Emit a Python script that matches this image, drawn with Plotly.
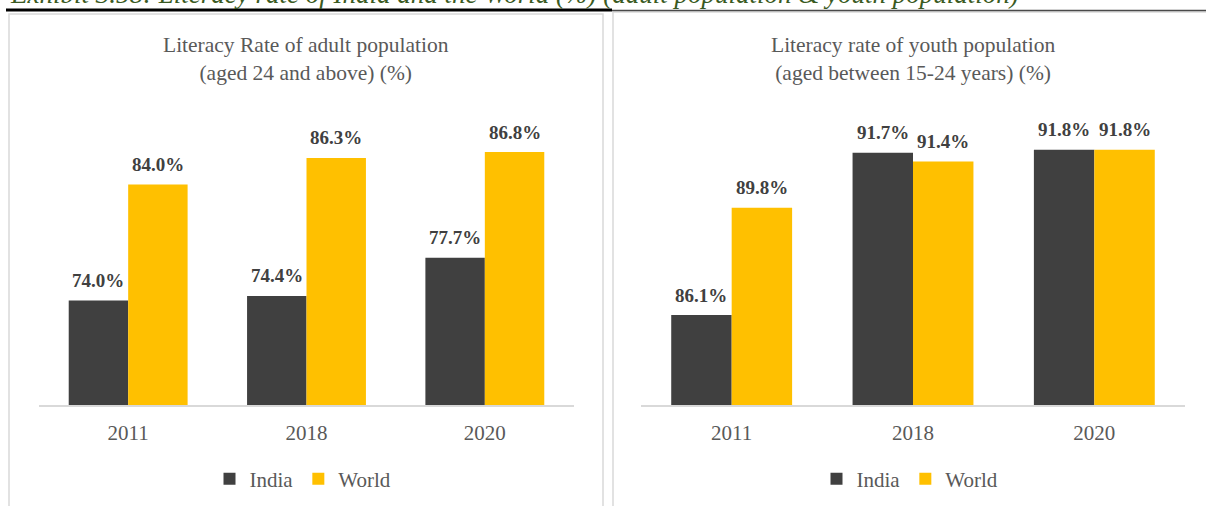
import plotly.graph_objects as go

# Literacy rates (%) by year
years = ["2011", "2018", "2020"]
adult_india = [74.0, 74.4, 77.7]
adult_world = [84.0, 86.3, 86.8]
youth_india = [86.1, 91.7, 91.8]
youth_world = [89.8, 91.4, 91.8]

series_names = ["India", "World"]
series_colors = ["#404040", "#FFC000"]

W, H = 1206, 506
SERIF = "Liberation Serif, Times New Roman, serif"
GREY_TEXT = "#595959"


def px(x):
    return x / W


def py(y):
    return 1 - y / H


fig = go.Figure()

panels = [
    dict(xaxis="x", yaxis="y", legend="legend", data=[adult_india, adult_world]),
    dict(xaxis="x2", yaxis="y2", legend="legend2", data=[youth_india, youth_world]),
]

for p in panels:
    for name, color, vals in zip(series_names, series_colors, p["data"]):
        fig.add_trace(go.Bar(
            x=years, y=vals, name=name,
            marker=dict(color=color, line=dict(width=0)),
            xaxis=p["xaxis"], yaxis=p["yaxis"], legend=p["legend"],
            hovertemplate="%{x}: %{y:.1f}%<extra>" + name + "</extra>",
        ))

BARGAP = 1 / 3
left_dom = [px(39), px(574)]
right_dom = [px(641), px(1185)]
y_dom = [py(405), py(115)]

axis_common = dict(
    type="category", categoryorder="array", categoryarray=years,
    range=[-0.5, len(years) - 0.5],
    showline=True, linecolor="#D9D9D9", linewidth=1.5,
    ticks="", showgrid=False, zeroline=False, fixedrange=True,
    ticklabelstandoff=8,
    tickfont=dict(family=SERIF, size=21, color=GREY_TEXT),
)
yaxis_common = dict(visible=False, showgrid=False, zeroline=False, fixedrange=True)

legend_common = dict(
    orientation="h", xanchor="center", yanchor="middle",
    font=dict(family=SERIF, size=21, color=GREY_TEXT),
    itemwidth=30, bgcolor="rgba(0,0,0,0)", traceorder="normal",
)

fig.update_layout(
    width=W, height=H,
    margin=dict(l=0, r=0, t=0, b=0),
    paper_bgcolor="white", plot_bgcolor="white",
    barmode="group", bargap=BARGAP, bargroupgap=0,
    showlegend=True,
    xaxis=dict(domain=left_dom, anchor="y", **axis_common),
    yaxis=dict(domain=y_dom, range=[65, 90], anchor="x", **yaxis_common),
    xaxis2=dict(domain=right_dom, anchor="y2", **axis_common),
    yaxis2=dict(domain=y_dom, range=[83, 93], anchor="x2", **yaxis_common),
    legend=dict(x=px(303), y=py(479), **legend_common),
    legend2=dict(x=px(910), y=py(479), **legend_common),
)

# Value labels above each bar (x given as category index on the category axis)
annotations = []
for p, dom in zip(panels, [left_dom, right_dom]):
    cat_w = (dom[1] - dom[0]) * W / len(years)
    bar_w = cat_w * (1 - BARGAP) / 2
    for k, vals in enumerate(p["data"]):
        shift = (k - 0.5) * bar_w
        for j, v in enumerate(vals):
            annotations.append(dict(
                x=j, y=v, xref=p["xaxis"], yref=p["yaxis"],
                xshift=shift, yshift=20, yanchor="middle", xanchor="center",
                showarrow=False,
                text=f"<b>{v:.1f}%</b>",
                font=dict(family=SERIF, size=19, color="#404040"),
            ))

# Chart titles
titles = [
    (306, "Literacy Rate of adult population<br>(aged 24 and above) (%)"),
    (913, "Literacy rate of youth population<br>(aged between 15-24 years) (%)"),
]
for cx, t in titles:
    annotations.append(dict(
        x=px(cx), y=py(59), xref="paper", yref="paper",
        xanchor="center", yanchor="middle", showarrow=False,
        text=t, align="center",
        font=dict(family=SERIF, size=21.5, color=GREY_TEXT),
    ))

# Exhibit caption along the top edge
annotations.append(dict(
    x=px(8), y=py(-6), xref="paper", yref="paper",
    xanchor="left", yanchor="middle", showarrow=False,
    text="<i>Exhibit 3.58: Literacy rate of India and the World (%) (adult population &amp; youth population)</i>",
    font=dict(family=SERIF, size=27, color="#3A5A22"),
))
fig.update_layout(annotations=annotations)

# Panel frames and caption rules
shapes = [
    dict(type="rect", xref="paper", yref="paper",
         x0=px(9), x1=px(603), y0=py(14), y1=py(520),
         line=dict(color="#D9D9D9", width=1.5), fillcolor="rgba(0,0,0,0)"),
    dict(type="rect", xref="paper", yref="paper",
         x0=px(613), x1=px(1230), y0=py(12), y1=py(520),
         line=dict(color="#D9D9D9", width=1.5), fillcolor="rgba(0,0,0,0)"),
    dict(type="line", xref="paper", yref="paper",
         x0=px(6), x1=px(612), y0=py(10), y1=py(10),
         line=dict(color="#000000", width=3)),
    dict(type="line", xref="paper", yref="paper",
         x0=px(612), x1=px(1206), y0=py(10.5), y1=py(10.5),
         line=dict(color="#4A4A4A", width=1.5)),
]
fig.update_layout(shapes=shapes)

fig.write_html("out.html", config=dict(displayModeBar=False))
